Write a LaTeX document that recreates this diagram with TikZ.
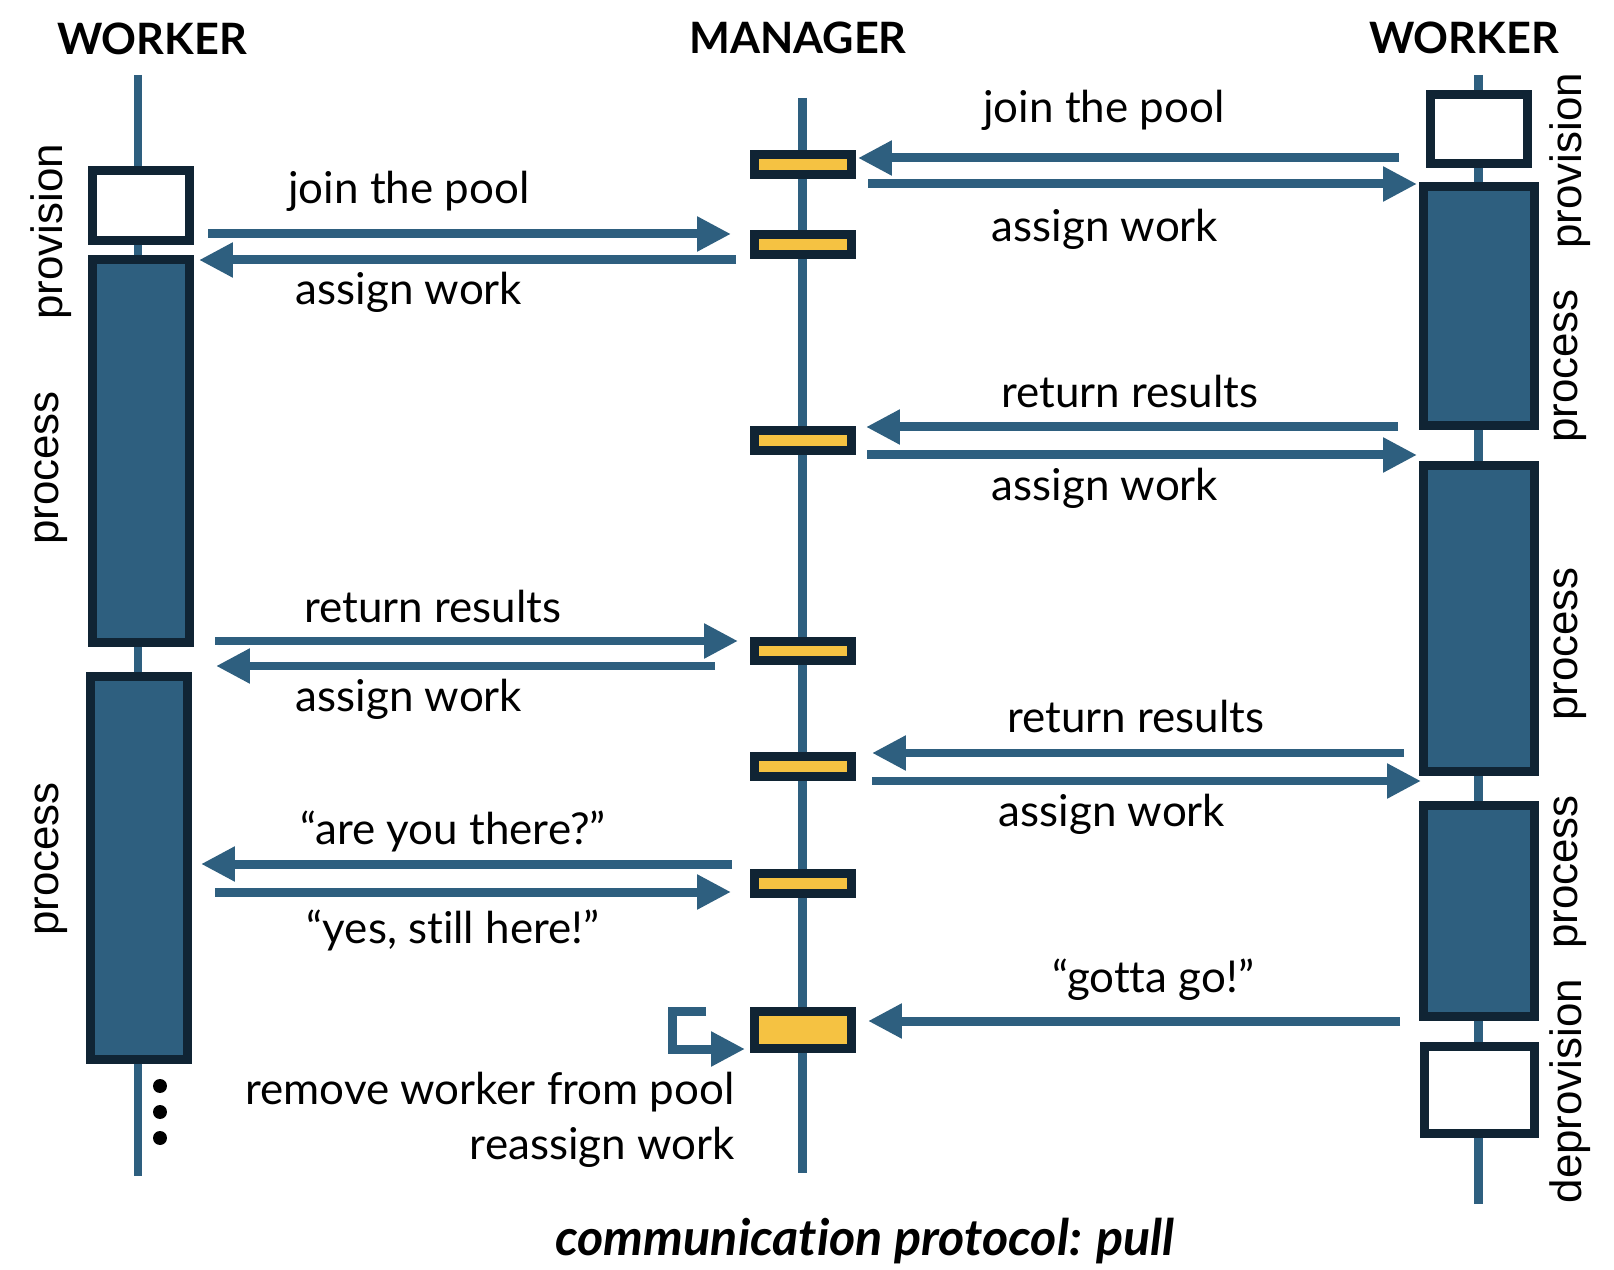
\documentclass[tikz,border=0pt]{standalone}
\usepackage{fontspec}
\setmainfont[Ligatures=NoCommon]{Lato}
\newfontfamily\sidefont{Liberation Sans}
\usetikzlibrary{arrows.meta}

\definecolor{lineblue}{RGB}{46,95,127}
\definecolor{darkedge}{RGB}{16,36,52}
\definecolor{baryellow}{RGB}{245,194,66}

\tikzset{
  lifeline/.style={draw=lineblue, line width=0.18cm},
  msg/.style={draw=lineblue, line width=0.18cm, -{Triangle[length=0.68cm,width=0.66cm]}},
  phase/.style={draw=darkedge, line width=0.18cm, inner sep=0, minimum width=1.94cm},
  workbox/.style={phase, fill=lineblue},
  idlebox/.style={phase, fill=white},
  bar/.style={draw=darkedge, fill=baryellow, line width=0.18cm, inner sep=0, minimum width=1.94cm, minimum height=0.4cm},
  msglabel/.style={font=\fontsize{25}{29}\selectfont, inner sep=0},
  sidelabel/.style={font=\sidefont\fontsize{25}{28}\selectfont, rotate=90, inner sep=0},
  role/.style={font=\bfseries\fontsize{24.6}{28}\selectfont, inner sep=0},
  dot/.style={circle, fill=black, inner sep=0, minimum size=0.28cm}
}

\begin{document}
\begin{tikzpicture}[x=0.02cm, y=-0.02cm]
        \useasboundingbox (0,0) rectangle (1614,1270);

        % lifelines
        \coordinate (lw-top) at (138,75);
        \coordinate (lw-bot) at (138,1176);
        \coordinate (mg-top) at (802,98);
        \coordinate (mg-bot) at (802,1173);
        \coordinate (rw-top) at (1478,75);
        \coordinate (rw-bot) at (1478,1204);
        \draw[lifeline] (lw-top) -- (lw-bot);
        \draw[lifeline] (mg-top) -- (mg-bot);
        \draw[lifeline] (rw-top) -- (rw-bot);

        \node[role] (lw) at (152,39) {WORKER};
        \node[role] (mg) at (798,38) {MANAGER};
        \node[role] (rw) at (1464,38) {WORKER};

        % left worker
        \node[idlebox, minimum height=1.4cm] (lprov) at (141,205.5) {};
        \node[workbox, minimum height=7.66cm] (lproc1) at (141,451) {};
        \node[workbox, minimum height=7.66cm] (lproc2) at (139,868) {};
        \node[sidelabel] (lprovlab) at (51,232) {provision};
        \node[sidelabel] (lproc1lab) at (51,468) {process};
        \node[sidelabel] (lproc2lab) at (51,859) {process};
        \node[dot] (d1) at (160,1086) {};
        \node[dot] (d2) at (160,1112) {};
        \node[dot] (d3) at (160,1138) {};

        % right worker
        \node[idlebox, minimum height=1.38cm] (rprov) at (1479,129) {};
        \node[workbox, minimum width=2.22cm, minimum height=4.78cm] (rproc1) at (1479,306) {};
        \node[workbox, minimum width=2.22cm, minimum height=6.12cm] (rproc2) at (1479,618.5) {};
        \node[workbox, minimum width=2.22cm, minimum height=4.22cm] (rproc3) at (1479,911) {};
        \node[idlebox, minimum width=2.2cm, minimum height=1.74cm] (rdeprov) at (1479.5,1090) {};
        \node[sidelabel] (rprovlab) at (1570,161) {provision};
        \node[sidelabel] (rproc1lab) at (1570,366) {process};
        \node[sidelabel] (rproc2lab) at (1570,644) {process};
        \node[sidelabel] (rproc3lab) at (1570,872) {process};
        \node[sidelabel] (rdeprovlab) at (1570,1091) {deprovision};

        % manager
        \node[bar] (m1) at (803,165) {};
        \node[bar] (m2) at (803,244.5) {};
        \node[bar] (m3) at (803,440.5) {};
        \node[bar] (m4) at (803,651) {};
        \node[bar] (m5) at (803,766.5) {};
        \node[bar] (m6) at (803,883.5) {};
        \node[bar, minimum height=0.74cm] (m7) at (803,1030) {};

        % left messages
        \coordinate (l1a) at (208,234);  \coordinate (l1b) at (731,234);
        \coordinate (l2a) at (736,260);  \coordinate (l2b) at (199,260);
        \coordinate (l3a) at (215,641);  \coordinate (l3b) at (738,641);
        \coordinate (l4a) at (715,666);  \coordinate (l4b) at (216,666);
        \coordinate (l5a) at (732,864);  \coordinate (l5b) at (201,864);
        \coordinate (l6a) at (215,892);  \coordinate (l6b) at (731,892);
        \draw[msg] (l1a) -- (l1b);
        \draw[msg] (l2a) -- (l2b);
        \draw[msg] (l3a) -- (l3b);
        \draw[msg] (l4a) -- (l4b);
        \draw[msg] (l5a) -- (l5b);
        \draw[msg] (l6a) -- (l6b);
        \node[msglabel] (l1lab) at (409,191) {join the pool};
        \node[msglabel] (l2lab) at (409,292) {assign work};
        \node[msglabel] (l3lab) at (433,607) {return results};
        \node[msglabel] (l4lab) at (409,699) {assign work};
        \node[msglabel] (l5lab) at (453,831) {“are you there?”};
        \node[msglabel] (l6lab) at (453,930) {“yes, still here!”};

        % manager removes worker
        \coordinate (loopa) at (706,1011);
        \coordinate (loopb) at (745,1049);
        \draw[msg] (loopa) -- ++(-34,0) |- (loopb);
        \node[msglabel, anchor=east] (rmlab) at (735,1092) {remove worker from pool};
        \node[msglabel, anchor=east] (ralab) at (735,1147) {reassign work};

        % right messages
        \coordinate (r1a) at (1399,158);  \coordinate (r1b) at (858,158);
        \coordinate (r2a) at (868,184);   \coordinate (r2b) at (1417,184);
        \coordinate (r3a) at (1398,427);  \coordinate (r3b) at (866,427);
        \coordinate (r4a) at (867,455);   \coordinate (r4b) at (1417,455);
        \coordinate (r5a) at (1404,753);  \coordinate (r5b) at (872,753);
        \coordinate (r6a) at (872,781);   \coordinate (r6b) at (1421,781);
        \coordinate (r7a) at (1400,1021); \coordinate (r7b) at (868,1021);
        \draw[msg] (r1a) -- (r1b);
        \draw[msg] (r2a) -- (r2b);
        \draw[msg] (r3a) -- (r3b);
        \draw[msg] (r4a) -- (r4b);
        \draw[msg] (r5a) -- (r5b);
        \draw[msg] (r6a) -- (r6b);
        \draw[msg] (r7a) -- (r7b);
        \node[msglabel] (r1lab) at (1104,110) {join the pool};
        \node[msglabel] (r2lab) at (1105,229) {assign work};
        \node[msglabel] (r3lab) at (1130,392) {return results};
        \node[msglabel] (r4lab) at (1105,488) {assign work};
        \node[msglabel] (r5lab) at (1136,717) {return results};
        \node[msglabel] (r6lab) at (1112,814) {assign work};
        \node[msglabel] (r7lab) at (1153,980) {“gotta go!”};

        \node[role, font=\bfseries\itshape\fontsize{28.6}{32}\selectfont] (caption) at (865,1241) {communication protocol: pull};
    \end{tikzpicture}
\end{document}
